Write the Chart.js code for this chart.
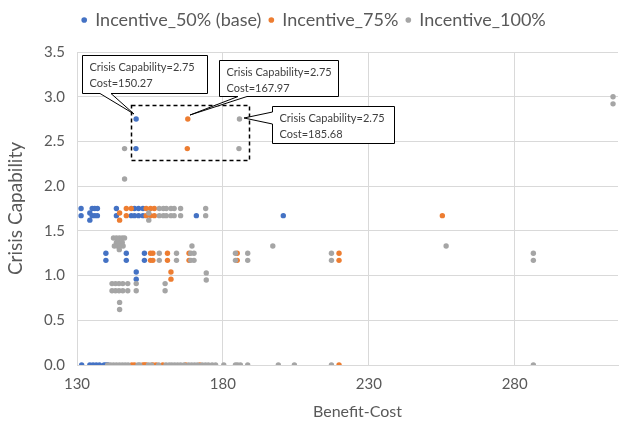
<!DOCTYPE html>
<html><head><meta charset="utf-8">
<script src="https://cdn.jsdelivr.net/npm/chart.js@4.4.1/dist/chart.umd.min.js"></script>
<style>html,body{margin:0;padding:0;background:#fff;}canvas{display:block;}</style>
</head><body>
<canvas id="c" width="622" height="425"></canvas>
<script>
// ---------- DATA ----------
const seriesNames = ['Incentive_50% (base)', 'Incentive_75%', 'Incentive_100%'];
const xTickValues = [130, 180, 230, 280];
const yTickValues = [0, 0.5, 1, 1.5, 2, 2.5, 3, 3.5];

const blueX = [150.27, 150.2, 131.4, 131.4, 134.4, 134.4, 135.2, 136.1, 137.0, 135.2, 136.1, 137.0,
  143.5, 143.5, 149.7, 151.1, 152.6, 148.6, 149.7, 151.1, 152.6, 170.9, 200.7,
  139.9, 139.9, 146.9, 146.9, 153.1, 153.1, 150.3, 150.3,
  131.6, 134.4, 135.5, 136.6, 137.7, 139.3, 140.0, 140.6];
const blueY = [2.75, 2.42, 1.75, 1.67, 1.70, 1.62, 1.75, 1.75, 1.75, 1.67, 1.67, 1.67,
  1.75, 1.67, 1.75, 1.75, 1.75, 1.67, 1.67, 1.67, 1.67, 1.67, 1.67,
  1.25, 1.17, 1.25, 1.17, 1.25, 1.17, 1.04, 0.96,
  0, 0, 0, 0, 0, 0, 0, 0];

const orangeX = [167.97, 167.8, 144.6, 144.6, 146.9, 146.9, 148.6, 153.7, 155.2, 156.5, 153.7, 155.2, 156.5,
  255.2,
  155.2, 156.0, 161.0, 168.4, 184.9, 219.8,
  155.2, 156.0, 161.0, 168.4, 184.9, 219.8,
  162.2, 162.2,
  148.8, 149.7, 152.6, 153.2, 153.7, 156.0, 157.1, 159.4, 167.3, 172.1, 219.8];
const orangeY = [2.75, 2.42, 1.70, 1.62, 1.75, 1.67, 1.75, 1.75, 1.75, 1.75, 1.67, 1.67, 1.67,
  1.67,
  1.25, 1.25, 1.25, 1.25, 1.25, 1.25,
  1.17, 1.17, 1.17, 1.17, 1.17, 1.17,
  1.04, 0.96,
  0, 0, 0, 0, 0, 0, 0, 0, 0, 0, 0];

const grayX = [185.68, 185.5, 146.3, 146.3, 313.7, 313.7,
  154.6, 154.6,
  158.2, 159.6, 160.6, 162.2, 163.3, 165.5, 174.1,
  158.2, 159.6, 160.6, 162.2, 163.3, 165.5, 174.1,
  142.5, 143.5, 144.5, 145.5, 146.3,
  143.5, 144.5, 145.5,
  142.8, 143.8, 144.8, 145.8, 169.4, 197.1, 256.5,
  144.5,
  158.2, 164.1, 169.0, 170.1, 184.3, 188.5, 217.2, 286.4,
  158.2, 164.1, 169.0, 170.1, 184.3, 188.5, 217.2, 286.4,
  174.3, 174.3,
  142.0, 143.2, 144.4, 145.7, 147.4, 150.3, 160.2,
  142.0, 143.2, 144.4, 145.7, 147.4, 150.3, 160.2,
  144.6, 144.6,
  140.5, 141.5, 142.5, 143.5, 144.5, 145.5, 146.5, 147.5, 150.9, 151.5, 154.5, 155.5, 158.0, 160.5,
  161.6, 162.5, 163.5, 164.5, 165.5, 166.7, 168.3, 169.3, 170.3, 171.3, 172.9, 174.0, 175.0, 176.3,
  177.5, 180.3, 184.3, 185.0, 186.0, 188.5, 199.0, 204.5, 217.2, 286.4];
const grayY = [2.75, 2.42, 2.42, 2.08, 3.0, 2.92,
  1.70, 1.62,
  1.75, 1.75, 1.75, 1.75, 1.75, 1.75, 1.75,
  1.67, 1.67, 1.67, 1.67, 1.67, 1.67, 1.67,
  1.42, 1.42, 1.42, 1.42, 1.42,
  1.37, 1.37, 1.37,
  1.33, 1.33, 1.33, 1.33, 1.33, 1.33, 1.33,
  1.29,
  1.25, 1.25, 1.25, 1.25, 1.25, 1.25, 1.25, 1.25,
  1.17, 1.17, 1.17, 1.17, 1.17, 1.17, 1.17, 1.17,
  1.03, 0.95,
  0.91, 0.91, 0.91, 0.91, 0.91, 0.91, 0.91,
  0.83, 0.83, 0.83, 0.83, 0.83, 0.83, 0.83,
  0.70, 0.62,
  0, 0, 0, 0, 0, 0, 0, 0, 0, 0, 0, 0, 0, 0,
  0, 0, 0, 0, 0, 0, 0, 0, 0, 0, 0, 0, 0, 0,
  0, 0, 0, 0, 0, 0, 0, 0, 0, 0];

// Callout labels
const calloutX = [150.27, 167.97, 185.68];
const calloutY = [2.75, 2.75, 2.75];
const calloutLine1 = ['Crisis Capability=2.75', 'Crisis Capability=2.75', 'Crisis Capability=2.75'];
const calloutLine2 = ['Cost=150.27', 'Cost=167.97', 'Cost=185.68'];
// highlighted region (data units)
const regionX = [148.4, 188.8];
const regionY = [2.30, 2.91];

// ---------- CHART ----------
const FONT = 'Lato, "Open Sans", sans-serif';
const TXT = '#595959';
const zip = (xs, ys) => xs.map((v, i) => ({x: v, y: ys[i]}));

const layoutTweaks = {
  id: 'layoutTweaks',
  afterInit(chart) {
    const lg = chart.legend;
    if (lg) {
      const fit = lg.fit;
      lg.fit = function () { fit.call(this); this.height += 13; };
    }
  },
  afterLayout(chart) {
    if (chart.legend) { chart.legend.left += 3; chart.legend.right += 3; }
    const s = chart.scales.x;
    if (s && !s._titleShifted) {
      const orig = s.drawTitle.bind(s);
      s.drawTitle = function () { const c = this.ctx; c.save(); c.translate(10, 0); orig(); c.restore(); };
      s._titleShifted = true;
    }
  }
};

const calloutPlugin = {
  id: 'callouts',
  afterDatasetsDraw(chart) {
    const {ctx, scales: {x, y}} = chart;
    ctx.save();
    const l = x.getPixelForValue(regionX[0]), r = x.getPixelForValue(regionX[1]);
    const t = y.getPixelForValue(regionY[1]), b = y.getPixelForValue(regionY[0]);
    ctx.setLineDash([4, 3]);
    ctx.lineWidth = 1.5;
    ctx.strokeStyle = '#000';
    ctx.strokeRect(Math.round(l) + 0.5, Math.round(t) + 0.5, Math.round(r - l), Math.round(b - t));
    ctx.setLineDash([]);
    const geo = [
      {dx: -54, dy: -64, w: 125, h: 38, side: 'bottom', b0: -36, b1: -25, tx: -2, ty: -5},
      {dx: 31, dy: -59, w: 119, h: 36, side: 'bottom', b0: 50, b1: 59, tx: 2, ty: -4},
      {dx: 33, dy: -13, w: 122, h: 37, side: 'left', b0: -7, b1: 5, tx: 5, ty: -1}
    ];
    ctx.font = '11px ' + FONT;
    ctx.lineWidth = 1;
    calloutX.forEach((cx, i) => {
      const px = Math.round(x.getPixelForValue(cx)), py = Math.round(y.getPixelForValue(calloutY[i]));
      const g = geo[i];
      const L = px + g.dx + 0.5, T = py + g.dy + 0.5, R = L + g.w, B = T + g.h;
      const tipX = px + g.tx, tipY = py + g.ty;
      ctx.beginPath();
      if (g.side === 'bottom') {
        ctx.moveTo(L, T); ctx.lineTo(R, T); ctx.lineTo(R, B);
        ctx.lineTo(px + g.b1, B); ctx.lineTo(tipX, tipY); ctx.lineTo(px + g.b0, B);
        ctx.lineTo(L, B); ctx.closePath();
      } else {
        ctx.moveTo(L, T); ctx.lineTo(R, T); ctx.lineTo(R, B); ctx.lineTo(L, B);
        ctx.lineTo(L, py + g.b1); ctx.lineTo(tipX, tipY); ctx.lineTo(L, py + g.b0);
        ctx.closePath();
      }
      ctx.fillStyle = '#fff';
      ctx.fill();
      ctx.strokeStyle = '#000';
      ctx.stroke();
      ctx.fillStyle = '#404040';
      ctx.textBaseline = 'middle';
      ctx.textAlign = 'left';
      ctx.fillText(calloutLine1[i], L + 7, T + 12);
      ctx.fillText(calloutLine2[i], L + 7, T + 28);
    });
    ctx.restore();
  }
};

new Chart(document.getElementById('c'), {
  type: 'scatter',
  data: {
    datasets: [
      {label: seriesNames[0], data: zip(blueX, blueY), backgroundColor: '#4472C4', borderWidth: 0, pointRadius: 2.7, order: 2},
      {label: seriesNames[1], data: zip(orangeX, orangeY), backgroundColor: '#ED7D31', borderWidth: 0, pointRadius: 2.7, order: 1},
      {label: seriesNames[2], data: zip(grayX, grayY), backgroundColor: '#A5A5A5', borderWidth: 0, pointRadius: 2.7, order: 0}
    ]
  },
  options: {
    responsive: false,
    animation: false,
    devicePixelRatio: 1,
    layout: {padding: {left: 0, right: 0, top: 3, bottom: 0}},
    plugins: {
      tooltip: {enabled: false},
      legend: {
        position: 'top',
        labels: {
          usePointStyle: true, pointStyle: 'circle', boxWidth: 4, boxHeight: 4,
          padding: 8, color: TXT, font: {family: FONT, size: 18},
          sort: (a, b) => a.datasetIndex - b.datasetIndex
        }
      }
    },
    scales: {
      x: {
        type: 'linear', min: 130, max: 315.4,
        afterBuildTicks: (axis) => { axis.ticks = xTickValues.map(v => ({value: v})); },
        afterFit: (s) => { s.height = 60; },
        ticks: {color: TXT, font: {family: FONT, size: 15}, padding: 10},
        grid: {color: '#D9D9D9', drawTicks: false},
        border: {color: '#D9D9D9'},
        title: {display: true, text: 'Benefit-Cost', color: TXT, font: {family: FONT, size: 16}, padding: {top: 2}}
      },
      y: {
        type: 'linear', min: 0, max: 3.5,
        afterBuildTicks: (axis) => { axis.ticks = yTickValues.map(v => ({value: v})); },
        afterFit: (s) => { s.width = 77; },
        ticks: {color: TXT, font: {family: FONT, size: 15}, padding: 12, callback: v => Number(v).toFixed(1)},
        grid: {color: '#D9D9D9', drawTicks: false},
        border: {color: '#D9D9D9'},
        title: {display: true, text: 'Crisis Capability', color: TXT, font: {family: FONT, size: 19}, padding: {top: 4, bottom: 0}}
      }
    }
  },
  plugins: [calloutPlugin, layoutTweaks]
});
</script>
</body></html>
